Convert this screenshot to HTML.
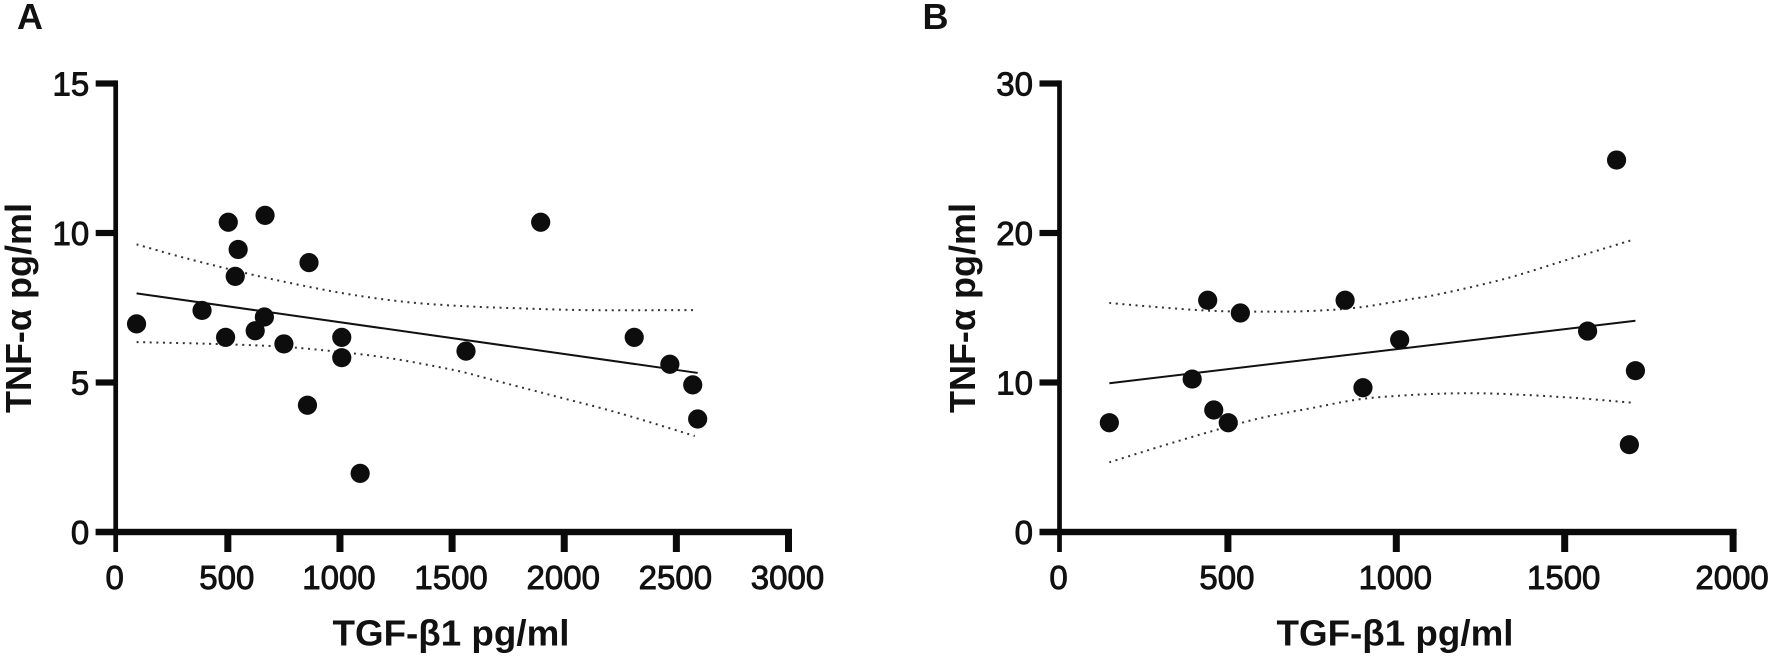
<!DOCTYPE html>
<html lang="en">
<head>
<meta charset="utf-8">
<title>TNF-α vs TGF-β1 scatter plots</title>
<style>
html,body{margin:0;padding:0;background:#fff;width:1772px;height:656px;overflow:hidden}
svg{display:block}
text{font-family:"Liberation Sans",Arial,sans-serif;fill:#111}
</style>
</head>
<body>
<svg id="figure" width="1772" height="656" viewBox="0 0 1772 656" xmlns="http://www.w3.org/2000/svg">
  <rect width="1772" height="656" fill="#fff"/>
  <text x="17" y="29" font-size="36" font-weight="700">A</text>
  <text x="922.5" y="29" font-size="36" font-weight="700">B</text>
  <g id="panelA">
    <text transform="translate(31,308) rotate(-90)" text-anchor="middle" font-size="36" font-weight="700">TNF-α pg/ml</text>
    <text x="451" y="645.5" text-anchor="middle" font-size="36" font-weight="700" textLength="237" lengthAdjust="spacingAndGlyphs">TGF-β1 pg/ml</text>
  </g>
  <g id="panelB">
    <text transform="translate(975,308) rotate(-90)" text-anchor="middle" font-size="36" font-weight="700">TNF-α pg/ml</text>
    <text x="1395" y="645.5" text-anchor="middle" font-size="36" font-weight="700" textLength="237" lengthAdjust="spacingAndGlyphs">TGF-β1 pg/ml</text>
  </g>
</svg>
<script>
const aXTicks = [0, 500, 1000, 1500, 2000, 2500, 3000];
const aYTicks = [0, 5, 10, 15];
const aPointsX = [93, 385, 490, 502, 546, 533, 622, 663, 666, 750, 862, 855, 1008, 1008, 1090, 1562, 1895, 2312, 2471, 2573, 2595];
const aPointsY = [6.96, 7.41, 6.51, 10.36, 9.45, 8.55, 6.73, 7.19, 10.59, 6.29, 9.01, 4.24, 6.51, 5.83, 1.96, 6.05, 10.36, 6.51, 5.61, 4.92, 3.78];
const aFitX = [93, 2595];
const aFitY = [7.98, 5.32];
const aUpperX = [93, 316, 584, 821, 1059, 1312, 1565, 1802, 2100, 2575];
const aUpperY = [9.62, 9.15, 8.65, 8.26, 7.93, 7.68, 7.55, 7.48, 7.42, 7.42];
const aLowerX = [93, 391, 688, 911, 1208, 1505, 1654, 1787, 1951, 2248, 2582];
const aLowerY = [6.35, 6.30, 6.22, 6.09, 5.83, 5.42, 5.14, 4.88, 4.56, 3.97, 3.21];

const bXTicks = [0, 500, 1000, 1500, 2000];
const bYTicks = [0, 10, 20, 30];
const bPointsX = [148, 394, 440, 458, 501, 537, 848, 901, 1010, 1568, 1654, 1692, 1710];
const bPointsY = [7.31, 10.23, 15.5, 8.16, 7.31, 14.65, 15.5, 9.65, 12.86, 13.44, 24.88, 5.84, 10.79];
const bFitX = [148, 1710];
const bFitY = [9.95, 14.13];
const bUpperX = [148, 298, 447, 595, 744, 892, 1040, 1130, 1328, 1522, 1700];
const bUpperY = [15.32, 15.03, 14.80, 14.74, 14.78, 15.03, 15.57, 15.92, 16.97, 18.31, 19.53];
const bLowerX = [148, 298, 447, 595, 744, 892, 1040, 1189, 1324, 1522, 1700];
const bLowerY = [4.66, 5.71, 6.71, 7.61, 8.27, 8.88, 9.16, 9.28, 9.23, 8.98, 8.65];

const NS = 'http://www.w3.org/2000/svg';

function make(parent, tag, attrs) {
  const el = document.createElementNS(NS, tag);
  for (const k in attrs) el.setAttribute(k, attrs[k]);
  parent.appendChild(el);
  return el;
}

function smoothPath(xs, ys, sx, sy) {
  const p = xs.map((x, i) => [sx(x), sy(ys[i])]);
  let d = 'M' + p[0][0].toFixed(1) + ' ' + p[0][1].toFixed(1);
  for (let i = 0; i < p.length - 1; i++) {
    const p0 = p[Math.max(i - 1, 0)], p1 = p[i], p2 = p[i + 1], p3 = p[Math.min(i + 2, p.length - 1)];
    const c1x = p1[0] + (p2[0] - p0[0]) / 6, c1y = p1[1] + (p2[1] - p0[1]) / 6;
    const c2x = p2[0] - (p3[0] - p1[0]) / 6, c2y = p2[1] - (p3[1] - p1[1]) / 6;
    d += 'C' + c1x.toFixed(1) + ' ' + c1y.toFixed(1) + ' ' + c2x.toFixed(1) + ' ' + c2y.toFixed(1) + ' ' + p2[0].toFixed(1) + ' ' + p2[1].toFixed(1);
  }
  return d;
}

function drawPanel(g, cfg) {
  const sx = v => cfg.x0 + (v - cfg.xTicks[0]) / (cfg.xTicks[cfg.xTicks.length - 1] - cfg.xTicks[0]) * cfg.plotW;
  const sy = v => 532 - (v - cfg.yTicks[0]) / (cfg.yTicks[cfg.yTicks.length - 1] - cfg.yTicks[0]) * 448.5;
  const xEnd = sx(cfg.xTicks[cfg.xTicks.length - 1]);
  const yEnd = sy(cfg.yTicks[cfg.yTicks.length - 1]);

  cfg.yTicks.forEach(t => {
    const tick = make(g, 'rect', {x: cfg.x0 - 20, y: sy(t) - 3.1, width: 20, height: 6.2, fill: '#0a0a0a'});
    
    
    const lab = make(g, 'text', {x: cfg.x0 - 26.5, y: sy(t) + 12, 'text-anchor': 'end', 'font-size': 33, stroke: '#111', 'stroke-width': 0.9});
    lab.textContent = t;
    
    
  });

  cfg.xTicks.forEach((t, i) => {
    const w = i === 0 ? 4.7 : 7;
    const tick = make(g, 'rect', {x: sx(t) - w / 2, y: 532, width: w, height: 20, fill: '#0a0a0a'});
    
    
    const lab = make(g, 'text', {x: sx(t) - 1, y: 589, 'text-anchor': 'middle', 'font-size': 33, stroke: '#111', 'stroke-width': 0.9});
    lab.textContent = t;
    
    
  });

  const yAxis = make(g, 'rect', {x: cfg.x0 - 2.35, y: yEnd - 3.1, width: 4.7, height: 532 - yEnd + 3.1, fill: '#0a0a0a'});
  
  

  const xAxis = make(g, 'rect', {x: cfg.x0 - 20, y: 528.8, width: xEnd - cfg.x0 + 23.5, height: 6.4, fill: '#0a0a0a'});
  
  

  const upper = make(g, 'path', {d: smoothPath(cfg.upperX, cfg.upperY, sx, sy), fill: 'none', stroke: '#333', 'stroke-width': 2, 'stroke-dasharray': '2 4.6'});
  
  

  const lower = make(g, 'path', {d: smoothPath(cfg.lowerX, cfg.lowerY, sx, sy), fill: 'none', stroke: '#333', 'stroke-width': 2, 'stroke-dasharray': '2 4.6'});
  
  

  const fit = make(g, 'line', {x1: sx(cfg.fitX[0]), y1: sy(cfg.fitY[0]), x2: sx(cfg.fitX[1]), y2: sy(cfg.fitY[1]), stroke: '#111', 'stroke-width': 2});
  
  

  cfg.px.forEach((x, i) => {
    const dot = make(g, 'circle', {cx: sx(x), cy: sy(cfg.py[i]), r: 9.6, fill: '#0d0d0d'});
    
    
  });
}

drawPanel(document.getElementById('panelA'), {
  x0: 115.7, plotW: 672.8, xTicks: aXTicks, yTicks: aYTicks,
  px: aPointsX, py: aPointsY, fitX: aFitX, fitY: aFitY,
  upperX: aUpperX, upperY: aUpperY, lowerX: aLowerX, lowerY: aLowerY
});
drawPanel(document.getElementById('panelB'), {
  x0: 1059.5, plotW: 673.6, xTicks: bXTicks, yTicks: bYTicks,
  px: bPointsX, py: bPointsY, fitX: bFitX, fitY: bFitY,
  upperX: bUpperX, upperY: bUpperY, lowerX: bLowerX, lowerY: bLowerY
});
</script>
</body>
</html>
